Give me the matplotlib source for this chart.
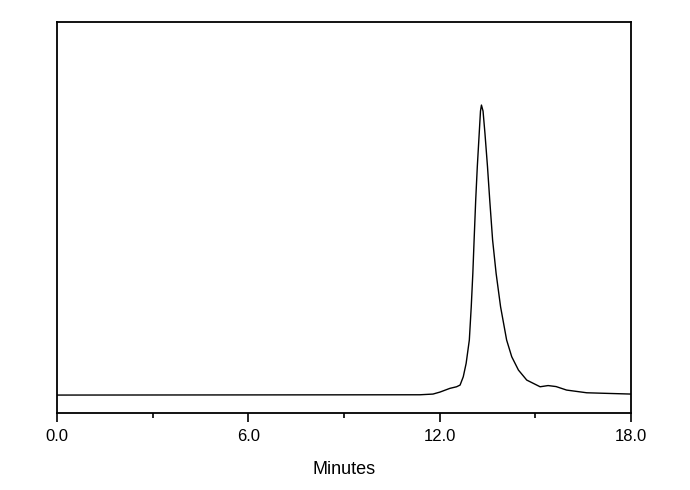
import matplotlib
matplotlib.use("Agg")
import matplotlib.pyplot as plt
from matplotlib.ticker import MultipleLocator, FormatStrFormatter

# chromatogram trace (time in minutes, signal in arbitrary units)
minutes = [0.0, 11.38, 11.79, 12.01, 12.32, 12.53, 12.64, 12.74, 12.83, 12.93,
           12.99, 13.04, 13.08, 13.13, 13.18, 13.24, 13.28, 13.31, 13.36, 13.42,
           13.50, 13.57, 13.66, 13.77, 13.91, 14.10, 14.26, 14.47, 14.73, 15.15,
           15.40, 15.65, 15.98, 16.61, 17.24, 18.0]
signal = [0.0, 0.3, 1.0, 3.0, 6.7, 8.3, 10.0, 18.3, 31.7, 55.0,
          88.3, 121.7, 155.0, 195.0, 228.3, 261.7, 284.0, 290.0, 284.0, 261.7,
          228.3, 195.0, 155.0, 121.7, 88.3, 55.0, 38.3, 25.0, 15.0, 8.3,
          9.5, 8.5, 5.0, 2.3, 1.7, 1.0]

plt.rcParams['font.family'] = ['Liberation Sans', 'DejaVu Sans']

fig = plt.figure(figsize=(6.9, 4.9), dpi=100)
ax = fig.add_axes([0.0826, 0.157, 0.8319, 0.798])

ax.plot(minutes, signal, color='black', linewidth=1.0)

ax.set_xlim(0, 18)
ax.set_ylim(-18, 373)
ax.xaxis.set_major_locator(MultipleLocator(6))
ax.xaxis.set_minor_locator(MultipleLocator(3))
ax.xaxis.set_major_formatter(FormatStrFormatter('%.1f'))
ax.tick_params(axis='x', which='major', direction='out', length=6.5, width=1.2,
               labelsize=12, pad=5)
ax.tick_params(axis='x', which='minor', direction='out', length=3.6, width=1.2)
ax.set_yticks([])
for s in ax.spines.values():
    s.set_linewidth(1.3)

ax.set_xlabel('Minutes', fontsize=13, labelpad=12)

fig.savefig('out.png', dpi=100)
